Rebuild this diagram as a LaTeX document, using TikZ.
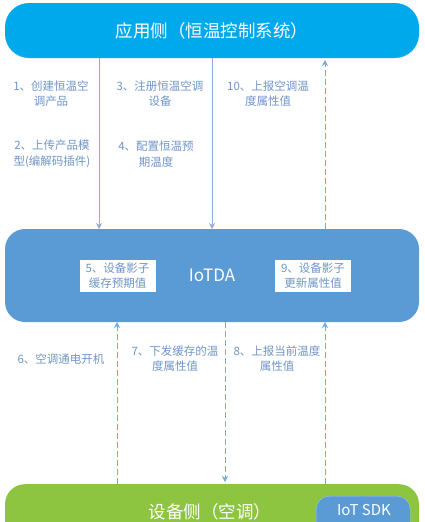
\documentclass[tikz,border=0pt]{standalone}
\usepackage{fontspec}
\setmainfont{Noto Sans CJK SC}
\usepackage{tikz}
\usetikzlibrary{arrows.meta, positioning}
\definecolor{appcyan}{HTML}{00A9EC}
\definecolor{iotblue}{HTML}{5B9BD5}
\definecolor{devgreen}{HTML}{8DC541}
\definecolor{flowline}{HTML}{8FAADC}
\definecolor{flowtext}{HTML}{6F95C8}
\tikzset{
    flowlabel/.style={text=flowtext, font=\fontsize{11.5}{15.5}\selectfont, align=center},
    shadowbox/.style={draw=white, fill=white, text=flowtext, font=\fontsize{11.5}{15}\selectfont,
          align=center, inner sep=1pt},
    solidflow/.style={-{Stealth[length=6pt, width=6pt]}, thick, flowline},
    dashflow/.style={-{Stealth[length=6pt, width=6pt]}, thick, dashed, dash pattern=on 6pt off 3pt, iotblue!85}
}

\begin{document}
\begin{tikzpicture}[x=1pt, y=-1pt]
    \useasboundingbox (0,0) rectangle (425,522);

    \node[fill=appcyan, rounded corners=24pt, minimum width=414pt, minimum height=55pt,
          text=white, font=\fontsize{17.5}{20}\selectfont] (app) at (212,30.5) {应用侧（恒温控制系统）};
    \node[fill=iotblue, rounded corners=20pt, minimum width=414pt, minimum height=93pt,
          text=white, font=\fontsize{17}{20}\selectfont] (iot) at (212,275.5) {IoTDA};
    \node[fill=devgreen, rounded corners=20pt, minimum width=414pt, minimum height=70pt,
          anchor=north] (dev) at (212,484) {};
    \node[text=white, font=\fontsize{17.5}{20}\selectfont] (devtext) at (210,512) {设备侧（空调）};
    \node[fill=iotblue, draw=iotblue!60!white, rounded corners=13pt, minimum width=94pt, minimum height=40pt,
          anchor=north west] (sdk) at (316,496) {};
    \node[text=white, font=\fontsize{15}{18}\selectfont] (sdktext) at (364,510) {IoT SDK};

    \node[shadowbox, minimum width=75pt, minimum height=31pt] (shadow1) at (117.5,275.5) {5、设备影子\\缓存预期值};
    \node[shadowbox, minimum width=75pt, minimum height=31pt] (shadow2) at (313,275.5) {9、设备影子\\更新属性值};

    % top: application <-> IoTDA
    \coordinate (a1) at (99,58);   \coordinate (b1) at (99,229);
    \coordinate (a2) at (212,58);  \coordinate (b2) at (212,229);
    \coordinate (a3) at (325,60);  \coordinate (b3) at (325,229);
    \draw[solidflow] (a1) -- (b1);
    \draw[solidflow] (a2) -- (b2);
    \draw[dashflow] (b3) -- (a3);

    \node[flowlabel] (l1) at (51,93.5) {1、创建恒温空\\调产品};
    \node[flowlabel] (l2) at (52,154) {2、上传产品模\\型(编解码插件)};
    \node[flowlabel] (l3) at (160,93.5) {3、注册恒温空调\\设备};
    \node[flowlabel] (l4) at (156,154) {4、配置恒温预\\期温度};
    \node[flowlabel] (l10) at (268,93.5) {10、上报空调温\\度属性值};

    % bottom: IoTDA <-> device
    \coordinate (c1) at (117,322); \coordinate (d1) at (117,484);
    \coordinate (c2) at (225,322); \coordinate (d2) at (225,482);
    \coordinate (c3) at (325,322); \coordinate (d3) at (325,484);
    \draw[dashflow] (d1) -- (c1);
    \draw[dashflow] (c2) -- (d2);
    \draw[dashflow] (d3) -- (c3);

    \node[flowlabel] (l6) at (61,359) {6、空调通电开机};
    \node[flowlabel] (l7) at (175,358.5) {7、下发缓存的温\\度属性值};
    \node[flowlabel] (l8) at (277,358.5) {8、上报当前温度\\属性值};
\end{tikzpicture}
\end{document}
